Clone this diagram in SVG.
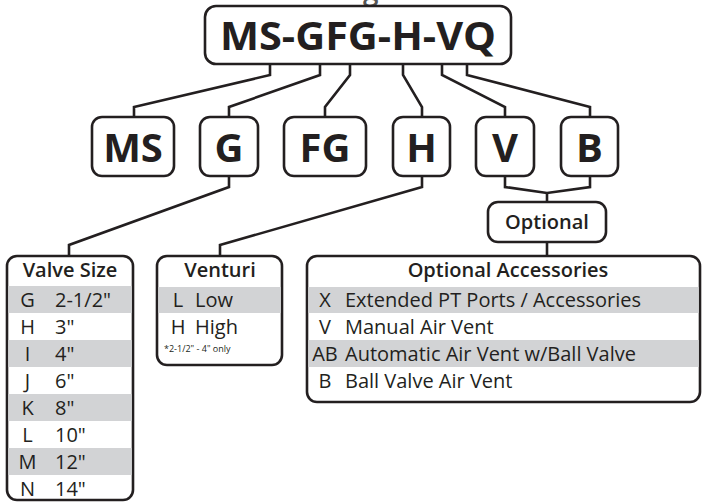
<svg xmlns="http://www.w3.org/2000/svg" width="703" height="502" viewBox="0 0 703 502">
<style>
.box{fill:#fff;stroke:#231f20;stroke-width:2.6}
.band{fill:#d2d3d5}
.ln{fill:none;stroke:#231f20;stroke-width:2.6;stroke-linejoin:miter}
text{font-family:"Open Sans","Noto Sans","Liberation Sans",sans-serif;fill:#231f20}
.big{font-size:40px;font-weight:700;text-anchor:middle}
.hd{font-size:20px;font-weight:600;text-anchor:middle}
.cd{font-size:20px;font-weight:400;text-anchor:middle}
.vl{font-size:20px;font-weight:400}
.fn{font-size:9px;font-weight:400}
</style>
<rect width="703" height="502" fill="#fff"/>
<text x="8" y="0.2" style="font-size:28px;font-weight:600;fill:#555" textLength="457" lengthAdjust="spacingAndGlyphs">Griswold Model Numbering Guide</text>
<g id="connectors">
<path class="ln" d="M270,64 V75 L134,107 V117"/>
<path class="ln" d="M320,64 V75 L229,107 V117"/>
<path class="ln" d="M350,64 V75 L325,107 V117"/>
<path class="ln" d="M403,64 V75 L422,107 V117"/>
<path class="ln" d="M442,64 V75 L505,107 V117"/>
<path class="ln" d="M467,64 V75 L590,107 V117"/>
<path class="ln" d="M229,176 V187 L69,245 V256"/>
<path class="ln" d="M422,176 V187 L220,245 V256"/>
<path class="ln" d="M505,176 V187 L547,193 L590,187 V176"/>
<path class="ln" d="M547,193 V202"/>
<path class="ln" d="M547,242 V256"/>
</g>
<g id="model">
<rect class="box" x="205" y="6" width="306" height="58" rx="11"/>
<text class="big" x="358" y="50" textLength="276" lengthAdjust="spacingAndGlyphs">MS-GFG-H-VQ</text>
</g>
<g id="ms"><rect class="box" x="92" y="117" width="82" height="59" rx="10"/><text class="big" x="133" y="162">MS</text></g>
<g id="g"><rect class="box" x="200" y="117" width="58" height="59" rx="10"/><text class="big" x="229" y="162">G</text></g>
<g id="fg"><rect class="box" x="284" y="117" width="82" height="59" rx="10"/><text class="big" x="325" y="162">FG</text></g>
<g id="h"><rect class="box" x="393" y="117" width="57" height="59" rx="10"/><text class="big" x="421.5" y="162">H</text></g>
<g id="v"><rect class="box" x="476" y="117" width="58" height="59" rx="10"/><text class="big" x="505" y="162">V</text></g>
<g id="b"><rect class="box" x="561" y="117" width="57" height="59" rx="10"/><text class="big" x="589.5" y="162">B</text></g>
<g id="optional"><rect class="box" x="488" y="202" width="118" height="40" rx="10"/><text class="hd" x="547" y="229">Optional</text></g>
<g id="valve-size">
<rect class="box" x="7" y="256" width="126" height="244" rx="10"/>
<rect class="band" x="8.3" y="286" width="123.4" height="27"/>
<rect class="band" x="8.3" y="340" width="123.4" height="27"/>
<rect class="band" x="8.3" y="394" width="123.4" height="27"/>
<rect class="band" x="8.3" y="448" width="123.4" height="27"/>
<text class="hd" x="70" y="277">Valve Size</text>
<text class="cd" x="27.5" y="307">G</text><text class="vl" x="55" y="307">2-1/2"</text>
<text class="cd" x="27.5" y="334">H</text><text class="vl" x="55" y="334">3"</text>
<text class="cd" x="27.5" y="361">I</text><text class="vl" x="55" y="361">4"</text>
<text class="cd" x="27.5" y="388">J</text><text class="vl" x="55" y="388">6"</text>
<text class="cd" x="27.5" y="415">K</text><text class="vl" x="55" y="415">8"</text>
<text class="cd" x="27.5" y="442">L</text><text class="vl" x="55" y="442">10"</text>
<text class="cd" x="27.5" y="469">M</text><text class="vl" x="55" y="469">12"</text>
<text class="cd" x="27.5" y="496">N</text><text class="vl" x="55" y="496">14"</text>
</g>
<g id="venturi">
<rect class="box" x="157" y="256" width="125" height="109" rx="10"/>
<rect class="band" x="158.3" y="287" width="122.4" height="26"/>
<text class="hd" x="220" y="277">Venturi</text>
<text class="cd" x="178" y="307">L</text><text class="vl" x="195" y="307">Low</text>
<text class="cd" x="178" y="334">H</text><text class="vl" x="195" y="334">High</text>
<text class="fn" x="164" y="352">*2-1/2" - 4" only</text>
</g>
<g id="accessories">
<rect class="box" x="307" y="256" width="393" height="146" rx="10"/>
<rect class="band" x="308.3" y="287" width="390.4" height="26"/>
<rect class="band" x="308.3" y="340" width="390.4" height="27"/>
<text class="hd" x="508" y="277">Optional Accessories</text>
<text class="cd" x="325" y="307">X</text><text class="vl" x="345" y="307">Extended PT Ports / Accessories</text>
<text class="cd" x="325" y="334">V</text><text class="vl" x="345" y="334">Manual Air Vent</text>
<text class="cd" x="325" y="361">AB</text><text class="vl" x="345" y="361">Automatic Air Vent w/Ball Valve</text>
<text class="cd" x="325" y="388">B</text><text class="vl" x="345" y="388">Ball Valve Air Vent</text>
</g>
</svg>
